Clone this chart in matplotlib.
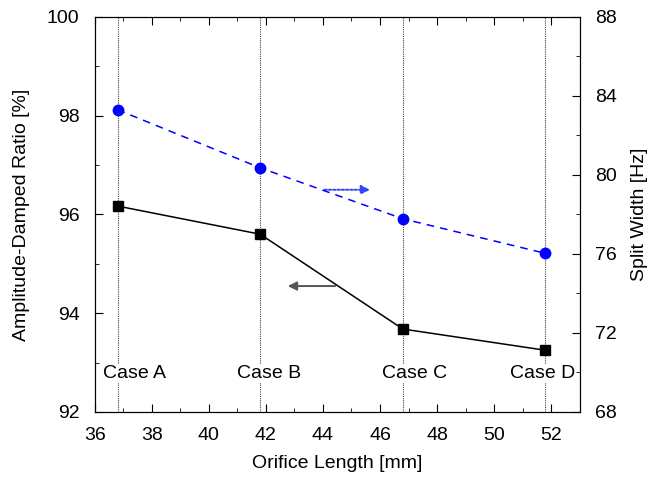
import matplotlib.pyplot as plt
import numpy as np
from matplotlib.ticker import MultipleLocator

plt.switch_backend('Agg')
plt.rcParams['font.family'] = ['Liberation Sans', 'DejaVu Sans']
plt.rcParams['font.size'] = 14

# data
orifice_len = [36.8, 41.8, 46.8, 51.8]
damped_ratio = [96.17, 95.6, 93.68, 93.25]
split_width = [83.3, 80.36, 77.78, 76.03]
case_names = ['Case A', 'Case B', 'Case C', 'Case D']
case_label_x = [37.4, 42.1, 47.2, 51.7]

fig = plt.figure(figsize=(6.58, 4.83), dpi=100)
ax = fig.add_axes([0.144, 0.147, 0.737, 0.818])
ax2 = ax.twinx()

# vertical case lines
for x in orifice_len:
    ax.axvline(x, color='#444444', lw=0.8, ls=(0, (1, 1)), zorder=1)

for x, name in zip(case_label_x, case_names):
    ax.text(x, 92.78, name, ha='center', va='center', fontsize=14,
            bbox=dict(facecolor='white', edgecolor='none', pad=1), zorder=2)

ax.plot(orifice_len, damped_ratio, color='black', lw=1.1, marker='s',
        markersize=7, zorder=3)
ax2.plot(orifice_len, split_width, color='blue', lw=1.1, ls=(0, (5, 4)),
         marker='o', markersize=7.5, zorder=3)

# arrows pointing to the axes
ax.annotate('', xy=(42.67, 94.55), xytext=(44.53, 94.55),
            arrowprops=dict(arrowstyle='-|>', color='#555555', lw=1.4,
                            mutation_scale=13))
ax.annotate('', xy=(45.75, 96.5), xytext=(43.96, 96.5),
            arrowprops=dict(arrowstyle='-|>', color='#3344ff', lw=1.4,
                            ls=(0, (1.2, 1)), mutation_scale=13))

ax.set_xlim(36, 53)
ax.set_ylim(92, 100)
ax2.set_ylim(68, 88)

ax.xaxis.set_major_locator(MultipleLocator(2))
ax.xaxis.set_minor_locator(MultipleLocator(1))
ax.yaxis.set_major_locator(MultipleLocator(2))
ax.yaxis.set_minor_locator(MultipleLocator(1))
ax2.yaxis.set_major_locator(MultipleLocator(4))
ax2.yaxis.set_minor_locator(MultipleLocator(2))

ax.tick_params(which='both', direction='in', top=True, right=False,
               labelsize=14, pad=11)
ax.tick_params(which='major', length=6)
ax.tick_params(which='minor', length=3)
ax2.tick_params(which='both', direction='in', labelsize=14, pad=11)
ax2.tick_params(which='major', length=6)
ax2.tick_params(which='minor', length=3)

ax.set_xlabel('Orifice Length [mm]', fontsize=14, labelpad=8)
ax.set_ylabel('Amplitude-Damped Ratio [%]', fontsize=14, labelpad=12)
ax2.set_ylabel('Split Width [Hz]', fontsize=14, labelpad=10)

plt.savefig('out.png')
